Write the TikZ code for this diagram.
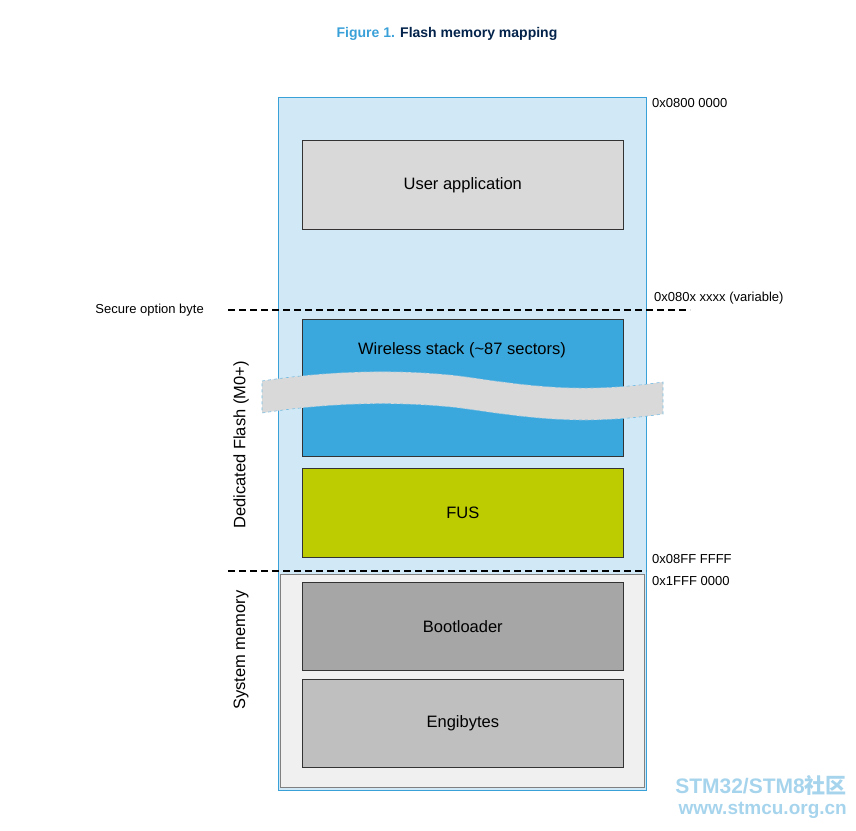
\documentclass[tikz,border=0pt]{standalone}
\usepackage{fontspec}
\setmainfont{Liberation Sans}
\newfontfamily\cjk{Noto Sans CJK SC}
\definecolor{stblue}{HTML}{3AA0D8}
\definecolor{stnavy}{HTML}{03234B}
\definecolor{flashbg}{HTML}{D1E9F6}
\definecolor{wsblue}{HTML}{3AA8DC}
\definecolor{fusgreen}{HTML}{BCCC00}
\begin{document}
\begin{tikzpicture}[x=1pt,y=-1pt]
  \tikzstyle{area}=[draw=black!80, line width=0.6pt, minimum width=321pt, font=\fontsize{16.5}{19}\selectfont, anchor=north west, inner sep=0pt]
  \tikzstyle{addr}=[font=\fontsize{13}{15}\selectfont, anchor=west, inner sep=0pt]
  \tikzstyle{limit}=[dashed, line width=1.6pt, dash pattern=on 7pt off 4pt]
  \useasboundingbox (0,0) rectangle (856,830);

  \node (title) at (447,34) {\fontsize{14}{16}\selectfont\bfseries\textcolor{stblue}{Figure 1.} \textcolor{stnavy}{Flash memory mapping}};

  % memory regions
  \draw[stblue, fill=flashbg, line width=1pt] (278,97) rectangle (646,790);
  \draw[black!50, fill=black!6, line width=0.8pt] (280,574) rectangle (644,787);

  \node[area, fill=black!15, minimum height=89pt] (user) at (302,140) {User application};
  \node[area, fill=wsblue, minimum height=137pt] (ws) at (302,319) {};
  \node[font=\fontsize{16.5}{19}\selectfont] (wstext) at (462,350) {Wireless stack (\textasciitilde87 sectors)};
  \node[area, fill=fusgreen, minimum height=89pt] (fus) at (302,468) {FUS};
  \node[area, fill=black!35, minimum height=88pt] (boot) at (302,582) {Bootloader};
  \node[area, fill=black!25, minimum height=88pt] (engi) at (302,679) {Engibytes};

  % cut band
  \draw[stblue!70, dashed, fill=black!15, line width=0.6pt]
    (262,381) .. controls (320,372) and (390,368) .. (460,376)
    .. controls (530,386) and (580,394) .. (663,382) -- (663,414)
    .. controls (580,426) and (530,418) .. (460,408)
    .. controls (390,400) and (320,404) .. (262,413) -- cycle;

  % limits
  \coordinate (s1) at (228,310); \coordinate (e1) at (690,310);
  \coordinate (s2) at (228,571); \coordinate (e2) at (646,571);
  \draw[limit] (s1) -- (e1);
  \draw[limit] (s2) -- (e2);

  \node[font=\fontsize{13}{15}\selectfont, anchor=east, inner sep=0pt] (sob) at (204,310) {Secure option byte};
  \node[addr] (a1) at (652,103) {0x0800 0000};
  \node[addr] (a2) at (654,298) {0x080x xxxx (variable)};
  \node[addr] (a3) at (652,559) {0x08FF FFFF};
  \node[addr] (a4) at (652,581) {0x1FFF 0000};

  \node[rotate=90, font=\fontsize{16.5}{19}\selectfont] (ded) at (241,445) {Dedicated Flash (M0+)};
  \node[rotate=90, font=\fontsize{16.5}{19}\selectfont] (sys) at (241,650) {System memory};

  \node[text=stblue!45, font=\fontsize{21}{24}\selectfont\bfseries, anchor=east, inner sep=0pt] (wm1) at (847,785) {STM32/STM8{\cjk 社区}};
  \node[text=stblue!45, font=\fontsize{19}{22}\selectfont\bfseries, anchor=east, inner sep=0pt] (wm2) at (847,810) {www.stmcu.org.cn};
\end{tikzpicture}
\end{document}
